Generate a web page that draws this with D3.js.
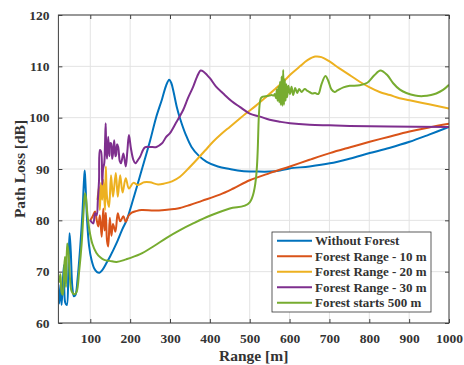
<!DOCTYPE html>
<html>
<head>
<meta charset="utf-8">
<script src="https://cdn.jsdelivr.net/npm/d3@7"></script>
<style>
    body { margin: 0; background: #fff; }
    #chart { width: 464px; height: 365px; }
    text { font-family: "Liberation Serif", "Times New Roman", serif; font-weight: bold; fill: #333; }
</style>
</head>
<body>
<div id="chart"><svg></svg></div>
<script>
// values, [range m, path loss dB]
var withoutForest = [[20,66.4],[22,63.8],[25,67.5],[28,63.5],[31,68],[34,71.3],[37,64],[41,63.5],[45,70],[48,77.5],[51,74],[55,67],[59,65.2],[63,65.5],[68,68.5],[74,74],[80,81],[84,87.5],[86,89.7],[88,87],[92,80],[97,75],[103,72.3],[110,70.6],[117,69.9],[123,69.8],[130,70.3],[140,71.6],[150,73],[165,75.4],[180,78.2],[191,80],[208,84.2],[229,89.8],[250,95.5],[265,100],[280,103.6],[290,106.2],[298,107.4],[303,106.8],[309,105],[317,102.1],[325,99.9],[340,96.6],[354,94.3],[372,92.6],[392,91.4],[420,90.5],[450,90],[480,89.6],[517,89.5],[550,89.5],[576,89.7],[600,90.1],[650,90.5],[701,91.1],[750,92],[801,93.1],[850,94.1],[901,95.3],[950,96.7],[1000,98.2]];

var forest10 = [[100,80],[106,80.8],[112,81.7],[116,80.1],[120,78.8],[124,81],[128.6,76.8],[132.6,82.3],[136,78],[139,81.5],[142,76],[145,74.9],[149,80.5],[153,77],[157,79.3],[163,77.8],[169,81.4],[175,79.8],[183,80.8],[189,79.7],[196,80.9],[204,81.5],[215,81.8],[229,82],[260,81.9],[287,82],[310,82.2],[325,82.4],[350,83],[380,83.8],[425,85],[459,86.2],[500,87.8],[550,89.2],[601,90.5],[650,91.8],[701,93.1],[750,94.2],[801,95.3],[850,96.3],[901,97.3],[950,98.1],[1000,98.8]];

var forest20 = [[118,84],[122,86.6],[124,82],[127,87.3],[130,84],[132.6,87.9],[137,82],[139,90.5],[142,84.6],[147,82.6],[152,88.8],[157,84.6],[164,89.2],[169,84.6],[175,88.8],[181,85.4],[189,88.2],[197,86.2],[208,87.3],[220,86.9],[235,87.4],[250,87.4],[270,87],[287,87.2],[305,87.6],[325,88.5],[345,90],[367,91.8],[388,93.6],[408,95.3],[430,96.9],[450,98.2],[470,99.5],[492,100.9],[515,102.3],[542,104.1],[564,105.6],[584,107],[605,108.6],[626,110],[645,111.2],[664,111.9],[680,111.8],[701,110.9],[725,109.6],[751,108.3],[776,107],[801,105.9],[826,105],[852,104.4],[876,103.8],[901,103.4],[950,102.6],[1000,101.8]];

var forest30 = [[99,80.1],[103,79.7],[107.6,79.4],[112,81.4],[116,81],[119,84],[122,87.9],[124,93.7],[127,93.4],[130,87],[132,90],[135,91.1],[137,95],[138.6,98.9],[140,94],[142,92],[145,96.3],[148,92.5],[150,95],[152,95],[155,92],[157,93],[160,95.6],[163,92.5],[165,92.8],[167,94.8],[170,94.3],[174,91.5],[177,91.1],[183,93],[189,90.5],[193,93.5],[197,96.6],[202,94],[208,91.8],[213,91.1],[220,91.8],[225,92.4],[237,94.2],[250,94.3],[266,94.3],[280,95],[290,96.2],[300,97],[315,99],[333,101.5],[345,103.8],[358,106],[368,108],[377,109.2],[385,108.9],[400,107.7],[415,106.1],[433.6,104.7],[455,103.2],[475,102.1],[500,100.8],[526,100.2],[550,99.6],[576,99.2],[601,98.9],[650,98.6],[700,98.5],[751,98.4],[850,98.3],[1000,98.2]];

var forestStarts500 = [[20,68.7],[22,68],[25,69.5],[28,66],[31,65.5],[34,70],[36.5,72.9],[39,67],[42,75.5],[45,74],[48,70],[52,66.5],[56,65.8],[61,65.6],[66,66.1],[72,70],[78.4,75.5],[83,81.5],[86.7,85.3],[89,84.5],[93,81],[98,78],[105,75.5],[115,73.7],[125,72.8],[135,72.3],[149,72.1],[166,71.9],[190,72.4],[225,73.4],[260,75],[291.5,76.6],[325,78.1],[358,79.4],[400,80.9],[450,82.3],[500,83.5],[528,103.8],[534,104.1],[545,104.2],[555,104.4],[560,104.3],[563,104.6],[566,103.8],[568,105.5],[570,103.3],[572,106],[574,103],[576,107],[578,102.5],[580,108],[582,102.3],[584,109.3],[586,102.5],[588,107.5],[590,103.3],[592,106.5],[594,104],[597,106.2],[601,104.6],[605,106],[609,104.4],[614,105.8],[619,104.8],[624,105.6],[630,105],[638,105.6],[645,105.2],[650,105],[657,104.7],[664,104.8],[672,104.6],[680,106.5],[690,108.1],[697,107.2],[705,105.5],[713,105],[720,105.3],[735,105.9],[751,106.2],[776,106.3],[795,106.8],[812,108.2],[828,109.2],[845,108.3],[860,106.7],[876,105.5],[893,104.8],[915,104.3],[935,104.2],[955,104.4],[968,104.7],[985,105.4],[1000,106.4]];

var seriesNames = ['Without Forest', 'Forest Range - 10 m', 'Forest Range - 20 m', 'Forest Range - 30 m', 'Forest starts 500 m'];
var seriesColors = ['#0072BD', '#D95319', '#EDB120', '#7E2F8E', '#77AC30'];
var xTicks = [100, 200, 300, 400, 500, 600, 700, 800, 900, 1000];
var yTicks = [60, 70, 80, 90, 100, 110, 120];

var svg = d3.select('#chart svg')
    .attr('width', 464)
    .attr('height', 365);

var margin = { top: 15, right: 15, bottom: 42, left: 58.4 },
    width = 464 - margin.left - margin.right,
    height = 365 - margin.top - margin.bottom;

var x = d3.scaleLinear().domain([20, 1000]).range([0, width]);
var y = d3.scaleLinear().domain([60, 120]).range([height, 0]);

var g = svg.append('g')
    .attr('transform', 'translate(' + margin.left + ',' + margin.top + ')');

g.append('rect')
    .attr('width', width)
    .attr('height', height)
    .attr('fill', '#fff');

// grid
g.append('g')
    .selectAll('line')
    .data(xTicks)
    .enter()
    .append('line')
    .attr('x1', function(d) { return x(d); })
    .attr('x2', function(d) { return x(d); })
    .attr('y1', 0)
    .attr('y2', height)
    .attr('stroke', '#e3e3e3')
    .attr('stroke-width', 1);

g.append('g')
    .selectAll('line')
    .data(yTicks)
    .enter()
    .append('line')
    .attr('x1', 0)
    .attr('x2', width)
    .attr('y1', function(d) { return y(d); })
    .attr('y2', function(d) { return y(d); })
    .attr('stroke', '#e3e3e3')
    .attr('stroke-width', 1);

svg.append('defs').append('clipPath')
    .attr('id', 'plot-clip')
    .append('rect')
    .attr('width', width)
    .attr('height', height);

var line = d3.line()
    .curve(d3.curveCatmullRom.alpha(0.5))
    .x(function(d) { return x(d[0]); })
    .y(function(d) { return y(d[1]); });

var allSeries = [withoutForest, forest10, forest20, forest30, forestStarts500];

g.append('g')
    .attr('clip-path', 'url(#plot-clip)')
    .selectAll('path')
    .data(allSeries)
    .enter()
    .append('path')
    .attr('d', function(d) { return line(d); })
    .attr('fill', 'none')
    .attr('stroke', function(d, i) { return seriesColors[i]; })
    .attr('stroke-width', 2)
    .attr('stroke-linejoin', 'round');

// axes with inward ticks on all four sides
g.append('g')
    .attr('transform', 'translate(0,' + height + ')')
    .call(d3.axisBottom(x).tickValues(xTicks).tickFormat(d3.format('d')).tickSizeInner(-4).tickSizeOuter(0).tickPadding(10))
    .call(function(a) { a.select('.domain').remove(); });

g.append('g')
    .call(d3.axisTop(x).tickValues(xTicks).tickSizeInner(-4).tickSizeOuter(0).tickFormat(''))
    .call(function(a) { a.select('.domain').remove(); });

g.append('g')
    .call(d3.axisLeft(y).tickValues(yTicks).tickSizeInner(-4).tickSizeOuter(0).tickPadding(9))
    .call(function(a) { a.select('.domain').remove(); });

g.append('g')
    .attr('transform', 'translate(' + width + ',0)')
    .call(d3.axisRight(y).tickValues(yTicks).tickSizeInner(-4).tickSizeOuter(0).tickFormat(''))
    .call(function(a) { a.select('.domain').remove(); });

g.selectAll('.tick line').attr('stroke', '#404040');
g.selectAll('.tick text')
    .style('font-family', '"Liberation Serif", serif')
    .style('font-weight', 'bold')
    .style('font-size', '13.5px')
    .attr('fill', '#333');

g.append('rect')
    .attr('width', width)
    .attr('height', height)
    .attr('fill', 'none')
    .attr('stroke', '#404040')
    .attr('stroke-width', 1);

// axis labels
svg.append('text')
    .attr('x', margin.left + width / 2)
    .attr('y', 361)
    .attr('text-anchor', 'middle')
    .style('font-size', '15.5px')
    .text('Range [m]');

svg.append('text')
    .attr('transform', 'translate(20,' + (margin.top + height / 2) + ') rotate(-90)')
    .attr('dy', '0.35em')
    .attr('text-anchor', 'middle')
    .style('font-size', '15.5px')
    .text('Path Loss [dB]');

// legend
var legend = svg.append('g')
    .attr('transform', 'translate(272,232)');

legend.append('rect')
    .attr('width', 159)
    .attr('height', 80)
    .attr('fill', '#fff')
    .attr('stroke', '#333')
    .attr('stroke-width', 0.8);

var rows = legend.selectAll('.legend-row')
    .data(seriesNames)
    .enter()
    .append('g')
    .attr('class', 'legend-row')
    .attr('transform', function(d, i) { return 'translate(0,' + (8.7 + i * 15.5) + ')'; });

rows.append('line')
    .attr('x1', 5)
    .attr('x2', 40)
    .attr('stroke', function(d, i) { return seriesColors[i]; })
    .attr('stroke-width', 2);

rows.append('text')
    .attr('x', 43)
    .attr('dy', '0.35em')
    .style('font-size', '13px')
    .text(function(d) { return d; });
</script>
</body>
</html>
